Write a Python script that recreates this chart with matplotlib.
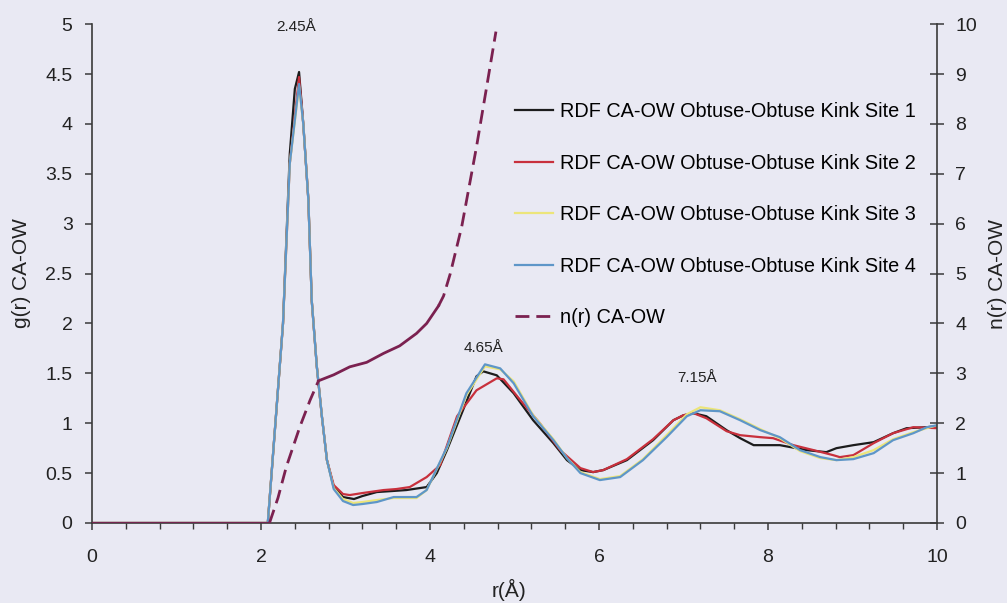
import numpy as np
import matplotlib.pyplot as plt

plt.rcParams['font.family'] = ['Liberation Sans', 'DejaVu Sans']

# g(r) CA-OW, four kink sites
r1 = [0, 2.08, 2.17, 2.26, 2.34, 2.40, 2.45, 2.50, 2.56, 2.60, 2.66, 2.72, 2.78, 2.86, 2.97,
      3.10, 3.20, 3.37, 3.55, 3.72, 3.96, 4.08, 4.20, 4.39, 4.55, 4.63, 4.79, 4.99, 5.22, 5.46,
      5.62, 5.78, 5.93, 6.05, 6.33, 6.64, 6.88, 7.00, 7.12, 7.27, 7.51, 7.67, 7.83, 8.14, 8.46,
      8.69, 8.81, 9.01, 9.25, 9.48, 9.64, 9.88, 10.0]
g1 = [0, 0, 1.0, 2.0, 3.7, 4.35, 4.52, 4.0, 3.24, 2.23, 1.57, 1.07, 0.63, 0.36, 0.26,
      0.24, 0.27, 0.31, 0.32, 0.33, 0.36, 0.50, 0.73, 1.13, 1.47, 1.52, 1.48, 1.30, 1.03, 0.80,
      0.63, 0.53, 0.51, 0.53, 0.63, 0.83, 1.03, 1.08, 1.10, 1.07, 0.93, 0.85, 0.78, 0.78, 0.73,
      0.71, 0.75, 0.78, 0.81, 0.90, 0.95, 0.96, 0.97]

r2 = [0, 2.08, 2.17, 2.26, 2.34, 2.45, 2.50, 2.56, 2.60, 2.66, 2.72, 2.78, 2.86, 2.97, 3.05,
      3.20, 3.45, 3.60, 3.76, 3.96, 4.12, 4.32, 4.55, 4.79, 4.87, 5.07, 5.30, 5.54, 5.78, 5.93,
      6.05, 6.33, 6.64, 6.88, 7.00, 7.12, 7.27, 7.51, 7.67, 7.91, 8.06, 8.30, 8.54, 8.77, 8.85,
      9.01, 9.25, 9.48, 9.72, 10.0]
g2 = [0, 0, 1.0, 2.0, 3.6, 4.47, 4.0, 3.24, 2.23, 1.57, 1.07, 0.63, 0.38, 0.29, 0.28,
      0.30, 0.33, 0.34, 0.36, 0.46, 0.58, 1.07, 1.33, 1.45, 1.44, 1.23, 1.00, 0.73, 0.55, 0.51,
      0.53, 0.64, 0.84, 1.03, 1.08, 1.10, 1.05, 0.92, 0.88, 0.86, 0.85, 0.78, 0.73, 0.68, 0.66,
      0.68, 0.80, 0.90, 0.96, 0.95]

r3 = [0, 2.08, 2.17, 2.26, 2.34, 2.45, 2.50, 2.56, 2.60, 2.66, 2.72, 2.78, 2.86, 2.97, 3.09,
      3.20, 3.37, 3.57, 3.84, 3.96, 4.20, 4.43, 4.65, 4.83, 4.99, 5.22, 5.46, 5.62, 5.78, 6.01,
      6.25, 6.52, 6.80, 7.04, 7.20, 7.43, 7.67, 7.91, 8.14, 8.38, 8.62, 8.81, 9.01, 9.25, 9.48,
      9.72, 9.88, 10.0]
g3 = [0, 0, 1.0, 2.0, 3.6, 4.38, 4.0, 3.24, 2.23, 1.57, 1.07, 0.63, 0.35, 0.24, 0.20,
      0.21, 0.23, 0.25, 0.25, 0.33, 0.75, 1.28, 1.57, 1.54, 1.42, 1.08, 0.84, 0.65, 0.51, 0.44,
      0.47, 0.64, 0.88, 1.09, 1.16, 1.13, 1.04, 0.94, 0.85, 0.72, 0.65, 0.63, 0.66, 0.73, 0.84,
      0.91, 0.95, 0.98]

r4 = [0, 2.08, 2.17, 2.26, 2.34, 2.45, 2.50, 2.56, 2.60, 2.66, 2.72, 2.78, 2.86, 2.97, 3.09,
      3.20, 3.37, 3.57, 3.84, 3.96, 4.20, 4.43, 4.65, 4.83, 4.99, 5.22, 5.46, 5.62, 5.78, 6.01,
      6.25, 6.52, 6.80, 7.04, 7.20, 7.43, 7.67, 7.91, 8.14, 8.38, 8.62, 8.81, 9.01, 9.25, 9.48,
      9.72, 9.88, 10.0]
g4 = [0, 0, 1.0, 2.0, 3.6, 4.40, 4.0, 3.24, 2.23, 1.57, 1.07, 0.63, 0.34, 0.22, 0.18,
      0.19, 0.21, 0.26, 0.26, 0.33, 0.76, 1.30, 1.59, 1.55, 1.40, 1.07, 0.83, 0.65, 0.50, 0.43,
      0.46, 0.63, 0.86, 1.07, 1.13, 1.12, 1.03, 0.93, 0.86, 0.73, 0.66, 0.63, 0.64, 0.70, 0.83,
      0.90, 0.96, 0.98]

# running coordination number n(r) CA-OW
rn = [0, 1.0, 2.10, 2.20, 2.30, 2.46, 2.58, 2.68, 2.86, 3.05, 3.25, 3.45, 3.64, 3.84, 3.96,
      4.10, 4.16, 4.24, 4.375, 4.55, 4.67, 4.78]
nn = [0, 0, 0, 0.5, 1.13, 1.93, 2.46, 2.85, 2.97, 3.13, 3.22, 3.40, 3.55, 3.80, 4.0,
      4.35, 4.55, 5.0, 5.94, 7.54, 8.74, 9.85]

labels = ["RDF CA-OW Obtuse-Obtuse Kink Site 1", "RDF CA-OW Obtuse-Obtuse Kink Site 2",
          "RDF CA-OW Obtuse-Obtuse Kink Site 3", "RDF CA-OW Obtuse-Obtuse Kink Site 4"]
colors = ["#1c1c1c", "#c8303c", "#ece57a", "#5e96c8"]
ncolor = "#7b2150"
peaks = [(2.41, 4.97, "2.45Å"), (4.63, 1.75, "4.65Å"), (7.16, 1.45, "7.15Å")]

bg = "#e9e9f3"
fig = plt.figure(figsize=(10.07, 6.03), dpi=100, facecolor=bg)
ax = fig.add_axes([0.0914, 0.1327, 0.8391, 0.8273], facecolor=bg)
ax2 = ax.twinx()

series = [(r1, g1), (r2, g2), (r3, g3), (r4, g4)]
handles = []
for (x, y), lab, c in zip(series, labels, colors):
    h, = ax.plot(x, y, color=c, lw=1.6, label=lab)
    handles.append(h)

# Excel draws the dense middle part of n(r) as if it were solid
rn_a = np.array(rn)
nn_a = np.array(nn)
solid1 = rn_a <= 2.10
dash1 = (rn_a >= 2.10) & (rn_a <= 2.68)
solid2 = (rn_a >= 2.68) & (rn_a <= 4.10)
dash2 = rn_a >= 4.10
ax2.plot(rn_a[solid1], nn_a[solid1], color=ncolor, lw=2)
ax2.plot(rn_a[dash1], nn_a[dash1], color=ncolor, lw=2, dashes=(5, 2.5))
ax2.plot(rn_a[solid2], nn_a[solid2], color=ncolor, lw=2)
hn, = ax2.plot(rn_a[dash2], nn_a[dash2], color=ncolor, lw=2, dashes=(5, 2.5),
               label="n(r) CA-OW")
handles.append(hn)

for x, y, t in peaks:
    ax.text(x, y, t, ha="center", va="center", fontsize=11, color="#222222")

ax.set_xlim(0, 10)
ax.set_ylim(0, 5)
ax2.set_ylim(0, 10)
ax.set_xticks(np.arange(0, 11, 2))
ax.set_xticks(np.arange(0, 10.01, 0.4), minor=True)
ax.set_yticks(np.arange(0, 5.01, 0.5))
ax.set_yticklabels(["0", "0.5", "1", "1.5", "2", "2.5", "3", "3.5", "4", "4.5", "5"])
ax2.set_yticks(np.arange(0, 11, 1))

for a in (ax, ax2):
    a.spines["top"].set_visible(False)
    for s in a.spines.values():
        s.set_color("#3a3a3a")
        s.set_linewidth(1.2)
ax.spines["right"].set_visible(False)
ax2.spines["left"].set_visible(False)
ax2.spines["bottom"].set_visible(False)

ax.tick_params(axis="both", which="major", labelsize=14, color="#3a3a3a",
               labelcolor="#222222", length=5, width=1.1, direction="out")
ax.tick_params(axis="y", which="major", pad=9)
ax.tick_params(axis="x", which="minor", length=4, width=1, color="#3a3a3a")
ax.tick_params(axis="x", which="major", pad=14)
ax2.tick_params(axis="y", labelsize=14, color="#3a3a3a", labelcolor="#222222",
                length=10, width=1.1, direction="inout", pad=8)

ax.set_ylabel("g(r) CA-OW", fontsize=15, color="#222222", labelpad=10)
ax2.set_ylabel("n(r) CA-OW", fontsize=15, color="#222222", labelpad=8, rotation=90)
ax.set_xlabel("r(Å)", fontsize=15, color="#222222")
ax.xaxis.set_label_coords(0.493, -0.112)

leg = ax.legend(handles=handles, loc="upper left", bbox_to_anchor=(0.491, 0.859),
                frameon=False, fontsize=14.3, handlelength=1.9, handletextpad=0.35,
                labelspacing=1.63, borderaxespad=0)

fig.savefig("out.png", dpi=100, facecolor=bg)
